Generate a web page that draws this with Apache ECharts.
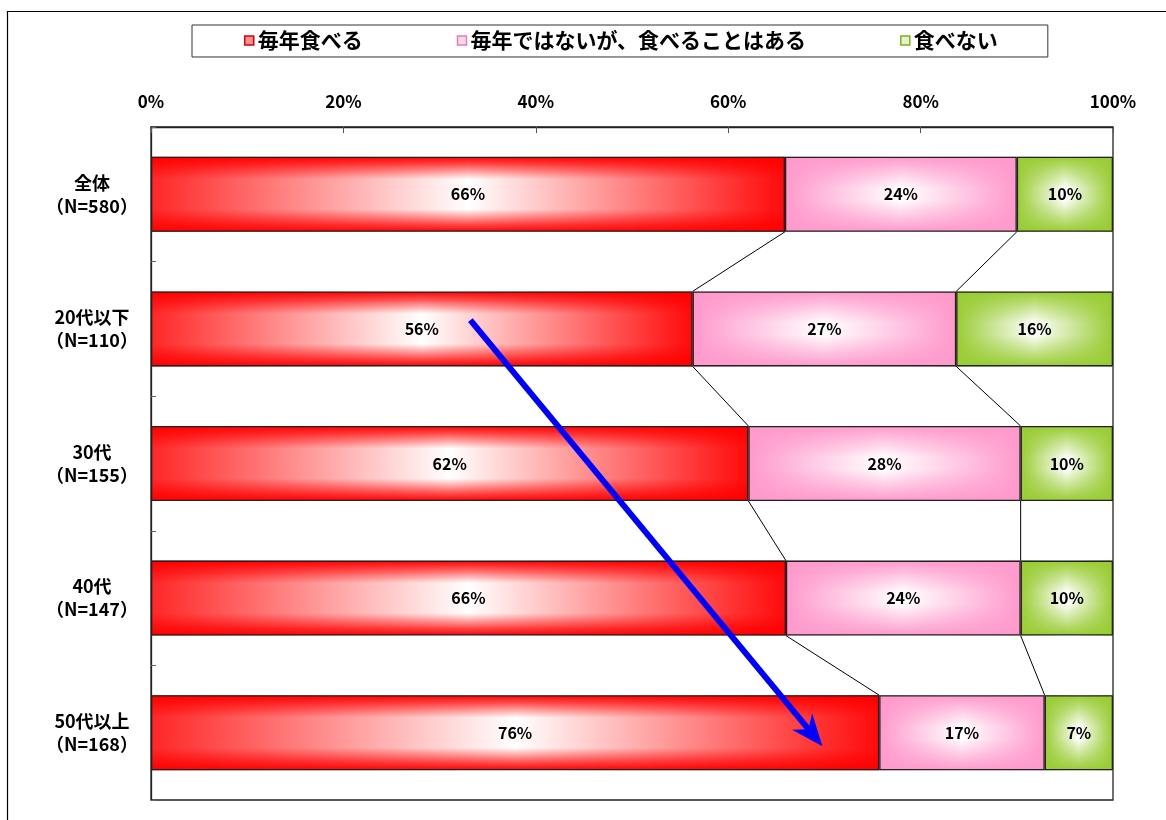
<!DOCTYPE html>
<html><head><meta charset="utf-8">
<script src="https://cdn.jsdelivr.net/npm/echarts@6/dist/echarts.min.js"></script>
<style>html,body{margin:0;padding:0;background:#fff}#c{width:1166px;height:820px}</style>
</head><body><div id="c"></div>
<script>
// ---- data ----
const categories = ['全体\n（N=580）', '20代以下\n（N=110）', '30代\n（N=155）', '40代\n（N=147）', '50代以上\n（N=168）'];
const seriesNames = ['毎年食べる', '毎年ではないが、食べることはある', '食べない'];
const eatEveryYear = [65.9, 56.3, 62.1, 66.0, 75.7];
const eatSometimes = [24.1, 27.4, 28.3, 24.4, 17.2];
const neverEat = [10.0, 16.3, 9.6, 9.6, 7.1];
const xTickMin = 0, xTickMax = 100, xTickStep = 20;
// trend arrow in data space: [value %, category index, offset in category bands]
const arrowFrom = [33.2, 1, -0.065];
const arrowTo = [69.8, 4, 0.1];

// ---- styling ----
const FONT = "'Noto Sans CJK JP', 'Noto Sans', sans-serif";
const BAR_RATIO = 0.557;
const rgb = [[255, 0, 0], [255, 153, 204], [153, 204, 51]];

function hGrad(edgeL, edgeR) {
  return new echarts.graphic.LinearGradient(0, 0, 1, 0, [
    {offset: 0, color: edgeL}, {offset: 0.5, color: '#ffffff'}, {offset: 1, color: edgeR}
  ]);
}
function vOverlay(k, strong) {
  const [r, g, b] = rgb[k];
  const a = (x) => `rgba(${r},${g},${b},${x})`;
  return new echarts.graphic.LinearGradient(0, 0, 0, 1, strong ? [
    {offset: 0, color: a(1)}, {offset: 0.1, color: a(0.7)}, {offset: 0.3, color: a(0)},
    {offset: 0.7, color: a(0)}, {offset: 0.9, color: a(0.7)}, {offset: 1, color: a(1)}
  ] : [
    {offset: 0, color: a(1)}, {offset: 0.42, color: a(0)},
    {offset: 0.58, color: a(0)}, {offset: 1, color: a(1)}
  ]);
}
const baseFills = [
  hGrad('#ff2626', '#ff0a0a'),
  hGrad('#ff99cc', '#ff99cc'),
  hGrad('#99cc33', '#99cc33')
];
const values = [eatEveryYear, eatSometimes, neverEat];

const series = [];
values.forEach((arr, k) => {
  series.push({
    name: seriesNames[k], type: 'bar', stack: 'base', data: arr,
    barWidth: (BAR_RATIO * 100) + '%', barGap: '-100%',
    itemStyle: {color: baseFills[k]}, emphasis: {disabled: true}, z: 2
  });
});
values.forEach((arr, k) => {
  series.push({
    name: seriesNames[k] + '_overlay', type: 'bar', stack: 'overlay', data: arr,
    barWidth: (BAR_RATIO * 100) + '%', barGap: '-100%',
    itemStyle: {color: vOverlay(k, k === 0), borderColor: '#222', borderWidth: 1.3},
    label: {
      show: true, position: 'inside', color: '#000', fontFamily: FONT, fontWeight: 'bold', fontSize: 16,
      formatter: p => Math.round(p.value) + '%'
    },
    emphasis: {disabled: true}, z: 3
  });
});

// connector lines between successive bars
const connData = [];
for (let i = 0; i < categories.length - 1; i++) {
  connData.push([eatEveryYear[i], eatEveryYear[i + 1], i]);
  connData.push([eatEveryYear[i] + eatSometimes[i], eatEveryYear[i + 1] + eatSometimes[i + 1], i]);
}
series.push({
  type: 'custom', name: 'connectors', data: connData, encode: {x: [0, 1], y: 2}, z: 4, silent: true,
  renderItem(params, api) {
    const i = api.value(2);
    const p0 = api.coord([api.value(0), i]);
    const p1 = api.coord([api.value(1), i + 1]);
    const half = api.size([0, 1])[1] * BAR_RATIO / 2;
    return {type: 'line', shape: {x1: p0[0], y1: p0[1] + half, x2: p1[0], y2: p1[1] - half},
      style: {stroke: '#000', lineWidth: 1}};
  }
});

// blue trend arrow
series.push({
  type: 'custom', name: 'arrow', data: [[arrowFrom[0], arrowFrom[1], arrowFrom[2], arrowTo[0], arrowTo[1], arrowTo[2]]],
  encode: {x: [0, 3], y: [1, 4]}, z: 10, silent: true,
  renderItem(params, api) {
    const band = api.size([0, 1])[1];
    const p0 = api.coord([api.value(0), api.value(1)]); p0[1] += api.value(2) * band;
    const p1 = api.coord([api.value(3), api.value(4)]); p1[1] += api.value(5) * band;
    const dx = p1[0] - p0[0], dy = p1[1] - p0[1], len = Math.hypot(dx, dy);
    const ux = dx / len, uy = dy / len, nx = -uy, ny = ux;
    const L = 32, W = 13, N = 10;
    const back = [p1[0] - ux * L, p1[1] - uy * L];
    const notch = [p1[0] - ux * (L - N), p1[1] - uy * (L - N)];
    return {type: 'group', children: [
      {type: 'line', shape: {x1: p0[0], y1: p0[1], x2: notch[0], y2: notch[1]},
        style: {stroke: '#0000ff', lineWidth: 6}},
      {type: 'polygon', shape: {points: [p1, [back[0] + nx * W, back[1] + ny * W], notch, [back[0] - nx * W, back[1] - ny * W]]},
        style: {fill: '#0000ff'}}
    ]};
  }
});

const chart = echarts.init(document.getElementById('c'), null, {renderer: 'canvas'});
chart.setOption({
  animation: false,
  backgroundColor: '#fff',
  textStyle: {fontFamily: FONT},
  graphic: [{type: 'rect', shape: {x: 7.5, y: 11.5, width: 1300, height: 1000},
    style: {fill: 'none', stroke: '#000', lineWidth: 1.2}, z: 0, silent: true}],
  legend: {
    left: 192, top: 25, itemWidth: 9, itemHeight: 9, itemGap: 94,
    padding: [5, 50, 6, 52], borderColor: '#333', borderWidth: 1,
    selectedMode: false,
    textStyle: {fontFamily: FONT, fontWeight: 'bold', fontSize: 21, color: '#000', lineHeight: 20, padding: [0, 0, 0, -1]},
    data: [
      {name: seriesNames[0], icon: 'rect', itemStyle: {color: '#ff9090', borderColor: '#e00000', borderWidth: 1.5}},
      {name: seriesNames[1], icon: 'rect', itemStyle: {color: '#ffd6ea', borderColor: '#e080b0', borderWidth: 1.5}},
      {name: seriesNames[2], icon: 'rect', itemStyle: {color: '#e6f2c8', borderColor: '#80b020', borderWidth: 1.5}}
    ]
  },
  grid: {left: 151, right: 53, top: 127, bottom: 20, show: true, borderColor: '#222', borderWidth: 1.3, backgroundColor: '#fff'},
  xAxis: {
    type: 'value', position: 'top', min: xTickMin, max: xTickMax, interval: xTickStep,
    axisLine: {show: true, lineStyle: {color: '#222', width: 1.3}},
    axisTick: {show: true, inside: true, length: 6, lineStyle: {color: '#555'}},
    splitLine: {show: false},
    axisLabel: {formatter: '{value}%', margin: 17, color: '#000', fontFamily: FONT, fontWeight: 'bold', fontSize: 17}
  },
  yAxis: {
    type: 'category', inverse: true, data: categories,
    axisLine: {show: true, lineStyle: {color: '#222', width: 1.3}},
    axisTick: {show: true, inside: true, length: 5, lineStyle: {color: '#666'}},
    axisLabel: {align: 'center', margin: 59, color: '#000', fontFamily: FONT, fontWeight: 'bold', fontSize: 18, lineHeight: 23}
  },
  series
});
</script></body></html>
